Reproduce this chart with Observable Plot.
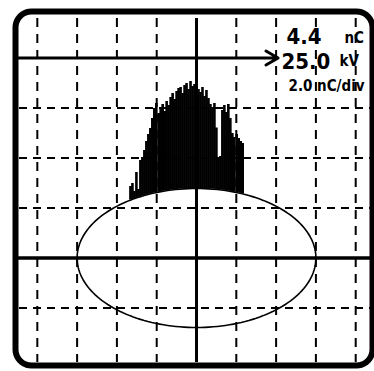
<!DOCTYPE html>
<html><head><meta charset="utf-8">
<script src="https://cdn.jsdelivr.net/npm/d3@7"></script>
<script src="https://cdn.jsdelivr.net/npm/@observablehq/plot@0.6"></script>
<style>html,body{margin:0;padding:0;background:#fff;} #chart svg{display:block}</style>
</head><body><div id="chart"></div>
<script>
// Phase position of each discharge pulse (divisions from centre) and its apparent charge (nC)
const phaseDiv = [-1.66,-1.61,-1.56,-1.51,-1.46,-1.41,-1.36,-1.31,-1.26,-1.21,-1.16,-1.11,-1.06,-1.01,-0.95,-0.90,-0.85,-0.80,-0.75,-0.70,-0.65,-0.60,-0.55,-0.50,-0.45,-0.40,-0.35,-0.30,-0.25,-0.20,-0.15,-0.10,-0.05,0.00,0.05,0.10,0.15,0.20,0.25,0.30,0.35,0.40,0.45,0.50,0.55,0.60,0.65,0.70,0.75,0.80,0.85,0.90,0.95,1.01,1.06,1.11,1.16];
const chargeNC = [2.86,2.98,2.66,3.42,2.74,3.90,4.02,4.30,4.66,4.94,5.18,5.58,5.98,6.18,5.78,5.98,6.14,5.86,6.26,6.10,6.42,6.58,6.34,6.66,6.78,6.82,6.58,6.90,6.98,6.74,7.06,6.86,6.94,6.86,6.74,6.62,6.82,6.46,6.70,6.38,6.14,6.02,6.18,5.20,4.02,4.06,5.90,6.10,5.82,6.14,5.58,4.98,4.82,4.94,4.78,4.66,4.58];

// Graticule (divisions horizontally, nC vertically at 2 nC/div)
const gridX = [-4,-3,-2,-1,1,2,3,4];
const gridY = [-2,2,4,6];
const centreX = [0];
const centreY = [0];
const triggerArrow = [{from: -4.55, to: 2.05, level: 8}];

// Screen extent (scale domains) and bezel corner radius (in divisions / nC)
const xDomain = [-4.548, 4.422];
const yDomain = [-4.3, 9.86];
const cornerX = 0.40;
const cornerY = 0.64;

// Test-voltage ellipse semi-axes
const ellipseRx = 3;
const ellipseRy = 2.78;

// Readouts
const chargeValue = ["4.4"];
const chargeUnit = ["nC"];
const voltageValue = ["25.0"];
const voltageUnit = ["kV"];
const scaleLabel = ["2.0 nC/div"];

const pulses = phaseDiv.map((x, i) => ({
  x,
  top: chargeNC[i],
  base: ellipseRy * Math.sqrt(Math.max(0, 1 - (x / ellipseRx) ** 2))
}));
const ellipse = d3.range(0, 362, 2).map(a => ({
  x: ellipseRx * Math.cos(a * Math.PI / 180),
  y: ellipseRy * Math.sin(a * Math.PI / 180)
}));

// rounded bezel outline following the screen extent
const [bx0, bx1] = xDomain, [by0, by1] = yDomain;
const arc = (cx, cy, a0, a1) => d3.range(0, 11).map(i => {
  const a = (a0 + (a1 - a0) * i / 10) * Math.PI / 180;
  return {x: cx + cornerX * Math.cos(a), y: cy + cornerY * Math.sin(a)};
});
const bezel = [
  ...arc(bx1 - cornerX, by1 - cornerY, 90, 0),
  ...arc(bx1 - cornerX, by0 + cornerY, 0, -90),
  ...arc(bx0 + cornerX, by0 + cornerY, -90, -180),
  ...arc(bx0 + cornerX, by1 - cornerY, 180, 90),
  {x: bx1 - cornerX, y: by1}
];

const font = "'DejaVu Sans Condensed', 'DejaVu Sans', sans-serif";
const txt = (data, size, dx, dy) => Plot.text(data, {
  text: d => d, frameAnchor: "top-left", dx, dy, lineAnchor: "bottom",
  textAnchor: "start", fontSize: size, fontWeight: "bold", fontFamily: font, fill: "black"
});

const chart = Plot.plot({
  width: 374, height: 371,
  marginLeft: 15, marginRight: 2, marginTop: 11, marginBottom: 6,
  style: {background: "white", color: "black"},
  x: {domain: xDomain, axis: null},
  y: {domain: yDomain, axis: null},
  marks: [
    Plot.ruleX(gridX, {x: d => d, stroke: "black", strokeWidth: 2, strokeDasharray: "9,7", insetTop: 7, insetBottom: 3}),
    Plot.ruleY(gridY, {y: d => d, stroke: "black", strokeWidth: 2, strokeDasharray: "8,6", insetLeft: 4}),
    Plot.ruleX(pulses, {x: "x", y1: "base", y2: "top", stroke: "black", strokeWidth: 2.6}),
    Plot.line(ellipse, {x: "x", y: "y", stroke: "black", strokeWidth: 1.6, curve: "linear"}),
    Plot.ruleX(centreX, {x: d => d, stroke: "black", strokeWidth: 3, insetTop: 7, insetBottom: 3}),
    Plot.ruleY(centreY, {y: d => d, stroke: "black", strokeWidth: 3.5, insetRight: -2}),
    Plot.arrow(triggerArrow, {x1: "from", x2: "to", y1: "level", y2: "level", stroke: "black", strokeWidth: 3, headLength: 7}),
    Plot.line(bezel, {x: "x", y: "y", stroke: "black", strokeWidth: 6, curve: "linear", strokeLinejoin: "round", clip: false}),
    txt(chargeValue, 22, 271, 32),
    txt(chargeUnit, 15, 329, 31),
    txt(voltageValue, 22, 266, 57),
    txt(voltageUnit, 15, 324, 54),
    txt(scaleLabel, 15, 273, 79)
  ]
});
document.getElementById("chart").appendChild(chart);
</script>
</body></html>
